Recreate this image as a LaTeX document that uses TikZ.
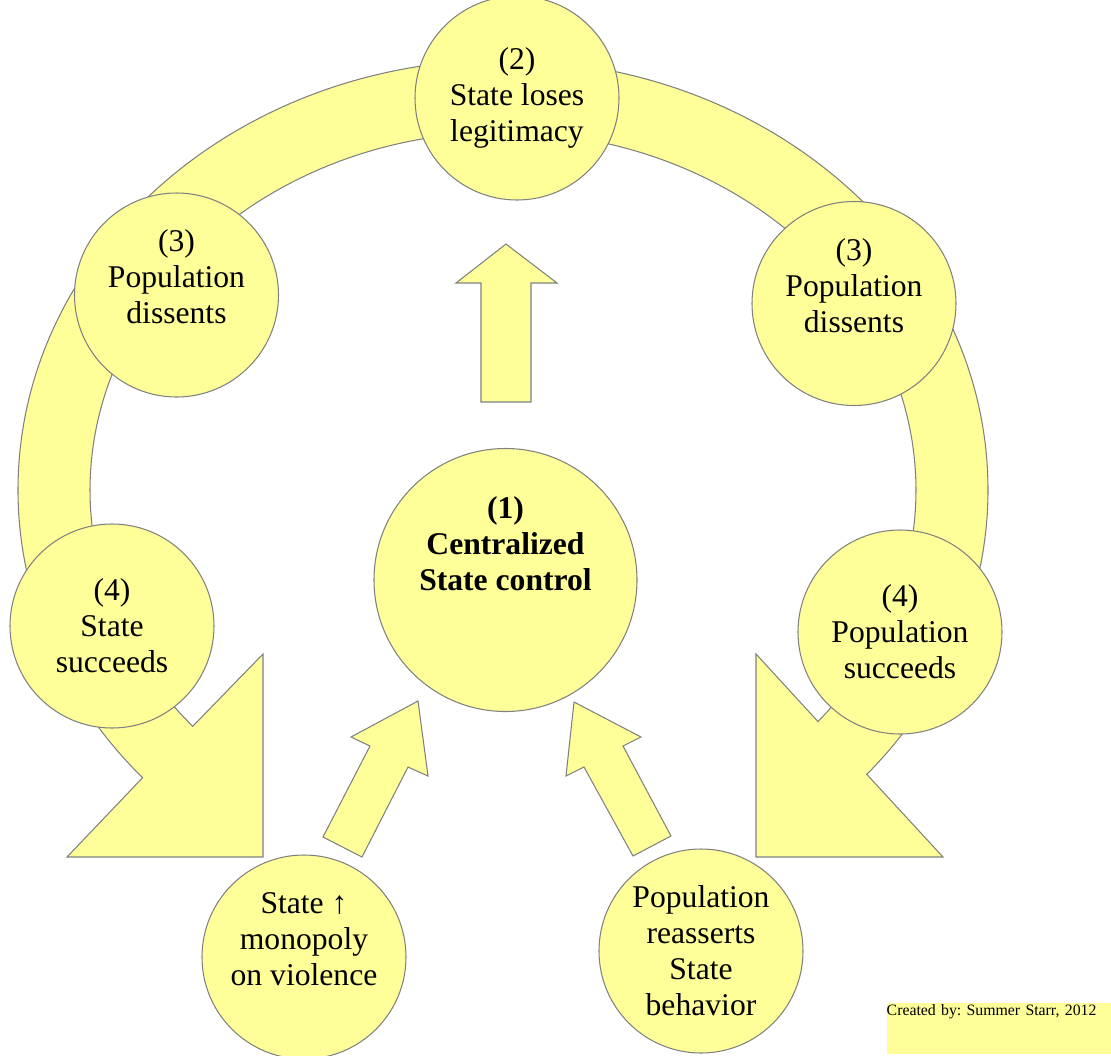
\documentclass[tikz,border=0pt]{standalone}
\usepackage{fontspec}
\setmainfont{Liberation Serif}
\usepackage{tikz}
\usetikzlibrary{calc}
\definecolor{paleyellow}{HTML}{FFFF99}
\definecolor{edgegray}{HTML}{808080}
\frenchspacing

\begin{document}
\begin{tikzpicture}[
    shapefill/.style={fill=paleyellow, draw=edgegray, line width=0.3pt},
    ball/.style={shapefill, circle, minimum size=2.04cm, inner sep=0pt, align=center,
        font=\fontsize{9}{10.25}\selectfont}
]
    \useasboundingbox (0,0) rectangle (11.11,10.55);

    % left arc arrow
    \draw[shapefill] (5.03,9.95) arc[start angle=90, end angle=222, x radius=4.85, y radius=4.30]
        -- (0.67,1.98) -- (2.63,1.98) -- (2.63,4.01)
        -- ($(5.03,5.65)+(221.3:4.13 and 3.58)$)
        arc[start angle=221.3, end angle=90, x radius=4.13, y radius=3.58] -- cycle;

    % right arc arrow
    \draw[shapefill] (5.03,9.95) arc[start angle=90, end angle=-41.4, x radius=4.85, y radius=4.30]
        -- (9.43,1.98) -- (7.56,1.98) -- (7.56,4.01)
        -- ($(5.03,5.65)+(-40.3:4.13 and 3.58)$)
        arc[start angle=-40.3, end angle=90, x radius=4.13, y radius=3.58] -- cycle;

    % straight arrows
    \draw[shapefill] (5.06,8.11) -- (5.57,7.72) -- (5.31,7.72) -- (5.31,6.53)
        -- (4.81,6.53) -- (4.81,7.72) -- (4.56,7.72) -- cycle;
    \draw[shapefill] (4.18,3.54) -- (4.28,2.79) -- (4.08,2.88) -- (3.62,1.98)
        -- (3.23,2.18) -- (3.70,3.09) -- (3.51,3.18) -- cycle;
    \draw[shapefill] (5.74,3.53) -- (6.41,3.18) -- (6.23,3.09) -- (6.71,2.19)
        -- (6.33,1.99) -- (5.84,2.88) -- (5.66,2.79) -- cycle;

    % circles
    \node[ball] (legit) at (5.17,9.57) {(2)\\State loses\\legitimacy};
    \node[ball] (dissentL) at (1.765,7.60) {(3)\\Population\\dissents\\\mbox{}};
    \node[ball] (dissentR) at (8.54,7.515) {(3)\\Population\\dissents\\\mbox{}};
    \node[ball] (stateWins) at (1.12,4.29) {(4)\\State\\succeeds};
    \node[ball] (popWins) at (9.00,4.23) {(4)\\Population\\succeeds};
    \node[ball, minimum size=2.63cm, font=\fontsize{9}{10.25}\selectfont\bfseries] (control) at (5.055,4.75)
        {(1)\\Centralized\\State control\\\mbox{}\\\mbox{}};
    \node[ball] (monopoly) at (3.04,0.98) {State ↑\\monopoly\\on violence\\\mbox{}};
    \node[ball] (reassert) at (7.01,1.04) {Population\\reasserts\\State\\behavior};

    % credit
    \node[fill=paleyellow, anchor=north west, inner xsep=0pt, inner ysep=0.02cm, text width=2.25cm,
        text depth=0.36cm, align=left, font=\fontsize{4.5}{5}\selectfont] (credit) at (8.86,0.53)
        {Created by: Summer Starr, 2012};
\end{tikzpicture}
\end{document}
